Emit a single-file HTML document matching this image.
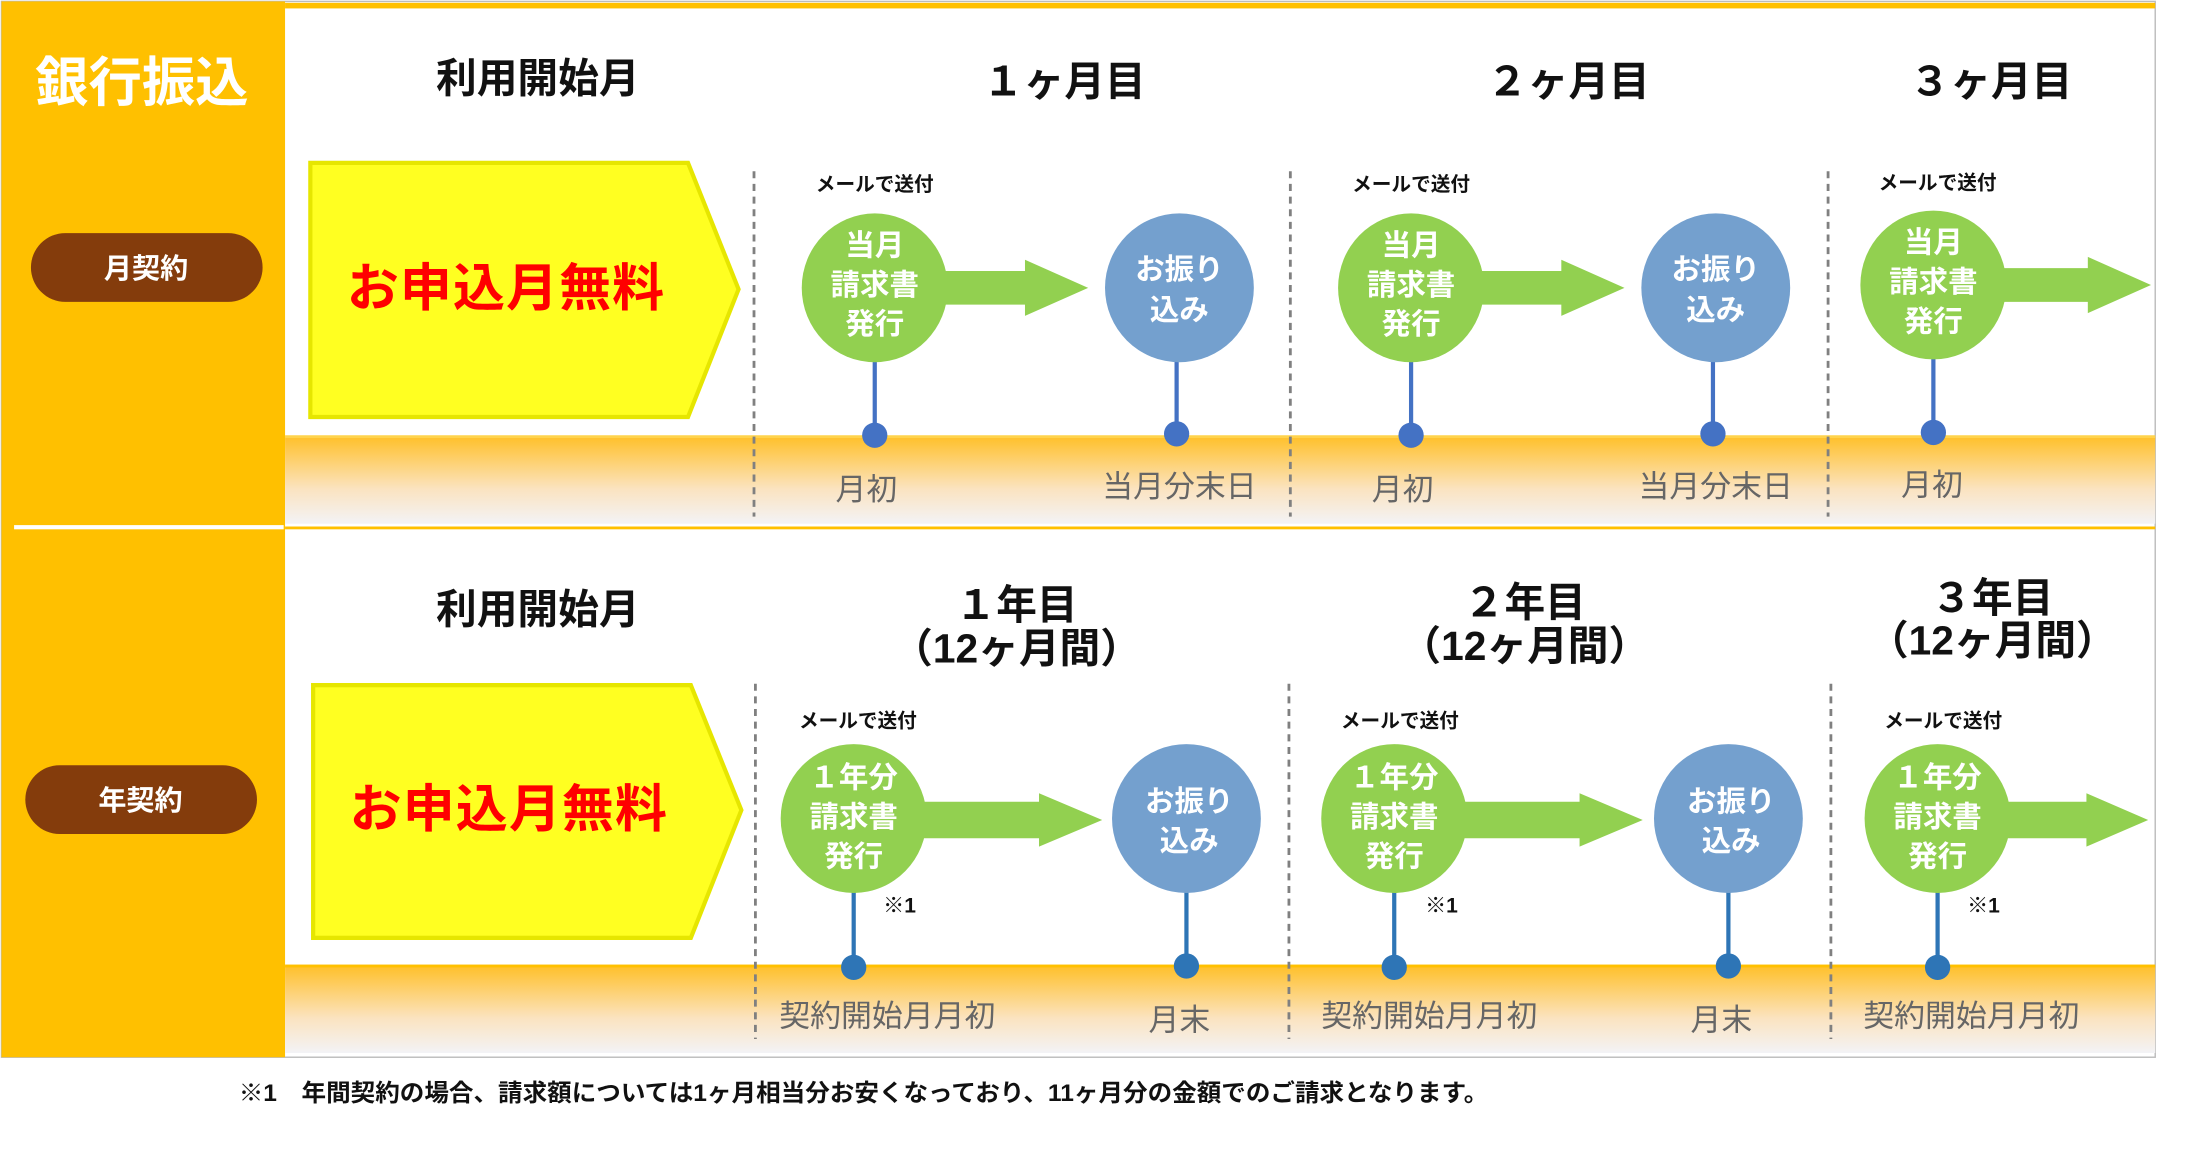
<!DOCTYPE html>
<html><head><meta charset="utf-8"><style>
html,body{margin:0;padding:0;background:#fff;}
svg{display:block;}
text{font-family:"Liberation Sans","Noto Sans CJK JP",sans-serif;}
.b{font-weight:bold;}
.w{fill:#fff;font-weight:bold;font-size:21px;text-anchor:middle;}
.h{font-weight:bold;font-size:29px;text-anchor:middle;fill:#111;}
.lab{font-size:22px;fill:#666;text-anchor:middle;}
.m{font-size:14px;font-weight:bold;text-anchor:middle;fill:#111;}
</style></head><body>
<svg width="2203" height="1152" viewBox="0 0 1569 820.5" xmlns="http://www.w3.org/2000/svg">
<defs>
<linearGradient id="g" x1="0" y1="0" x2="0" y2="1">
<stop offset="0" stop-color="#FFC02A"/><stop offset="0.6" stop-color="#FBE3C0"/><stop offset="1" stop-color="#F3F3F6"/>
</linearGradient>
</defs>
<rect x="1" y="1" width="1534" height="752" fill="#fff" stroke="#bbb" stroke-width="1"/>
<rect x="203" y="2" width="1332" height="4" fill="#FFC000"/>
<rect x="1" y="1" width="202" height="752" fill="#FFC000"/>
<rect x="10" y="374" width="192" height="3" fill="#fff"/>
<rect x="203" y="375" width="1332" height="2" fill="#FFC000"/>
<text x="101" y="72" class="b" font-size="38" fill="#fff" text-anchor="middle">銀行振込</text>
<rect x="22" y="166" width="165" height="49" rx="24.5" fill="#843C0C"/>
<text x="104" y="198" class="b" font-size="20" fill="#fff" text-anchor="middle">月契約</text>
<rect x="18" y="545" width="165" height="49" rx="24.5" fill="#843C0C"/>
<text x="100" y="577" class="b" font-size="20" fill="#fff" text-anchor="middle">年契約</text>

<rect x="203" y="311" width="1332" height="62" fill="url(#g)"/>
<rect x="203" y="310" width="1332" height="2" fill="#FFD34D"/>
<rect x="203" y="688" width="1332" height="62" fill="url(#g)"/>
<rect x="203" y="687" width="1332" height="2" fill="#FFC000"/>

<text x="383" y="66" class="h" font-size="28">利用開始月</text>
<text x="758" y="68" class="h" font-size="30">１ヶ月目</text>
<text x="1117" y="68" class="h" font-size="30">２ヶ月目</text>
<text x="1418" y="68" class="h" font-size="30">３ヶ月目</text>
<text x="383" y="444" class="h" font-size="28">利用開始月</text>
<text x="724" y="441" class="h" font-size="30">１年目</text>
<text x="724" y="472" class="h" font-size="20">（12ヶ月間）</text>
<text x="1086" y="439" class="h" font-size="30">２年目</text>
<text x="1086" y="470" class="h" font-size="20">（12ヶ月間）</text>
<text x="1419" y="436" class="h" font-size="30">３年目</text>
<text x="1419" y="466" class="h" font-size="20">（12ヶ月間）</text>

<polygon points="221,116 490,116 526,206 490,297 221,297" fill="#FFFF21" stroke="#E6E600" stroke-width="3"/>
<text x="360" y="218" class="b" font-size="37" fill="#FF0000" text-anchor="middle" textLength="226">お申込月無料</text>
<polygon points="223,488 492,488 528,577 492,668 223,668" fill="#FFFF21" stroke="#E6E600" stroke-width="3"/>
<text x="362" y="589" class="b" font-size="37" fill="#FF0000" text-anchor="middle" textLength="226">お申込月無料</text>

<g stroke="#808080" stroke-width="2" stroke-dasharray="5,4">
<line x1="537" y1="122" x2="537" y2="368"/><line x1="919" y1="122" x2="919" y2="368"/><line x1="1302" y1="122" x2="1302" y2="368"/>
<line x1="538" y1="487" x2="538" y2="740"/><line x1="918" y1="487" x2="918" y2="740"/><line x1="1304" y1="487" x2="1304" y2="740"/>
</g>

<g>
<text x="623" y="136" class="m">メールで送付</text>
<text x="1005" y="136" class="m">メールで送付</text>
<text x="1380" y="135" class="m">メールで送付</text>
<g stroke="#4472C4" stroke-width="3">
<line x1="623" y1="250" x2="623" y2="310"/><line x1="838" y1="250" x2="838" y2="310"/>
<line x1="1005" y1="250" x2="1005" y2="310"/><line x1="1220" y1="250" x2="1220" y2="310"/>
<line x1="1377" y1="250" x2="1377" y2="308"/>
</g>
<g fill="#4472C4"><circle cx="623" cy="310" r="9"/><circle cx="838" cy="309" r="9"/><circle cx="1005" cy="310" r="9"/><circle cx="1220" cy="309" r="9"/><circle cx="1377" cy="308" r="9"/></g>
<g fill="#92D050">
<polygon points="660,193 730,193 730,185 775,205 730,225 730,217 660,217"/>
<polygon points="1042,193 1112,193 1112,185 1157,205 1112,225 1112,217 1042,217"/>
<polygon points="1414,191 1487,191 1487,183 1532,203 1487,223 1487,215 1414,215"/>
<ellipse cx="623" cy="205" rx="52" ry="53"/><ellipse cx="1005" cy="205" rx="52" ry="53"/><ellipse cx="1377" cy="203" rx="52" ry="53"/>
</g>
<g fill="#74A0CE"><ellipse cx="840" cy="205" rx="53" ry="53"/><ellipse cx="1222" cy="205" rx="53" ry="53"/></g>
<text class="w" x="623" y="182">当月</text><text class="w" x="623" y="210">請求書</text><text class="w" x="623" y="238">発行</text>
<text class="w" x="1005" y="182">当月</text><text class="w" x="1005" y="210">請求書</text><text class="w" x="1005" y="238">発行</text>
<text class="w" x="1377" y="180">当月</text><text class="w" x="1377" y="208">請求書</text><text class="w" x="1377" y="236">発行</text>
<text class="w" x="840" y="199">お振り</text><text class="w" x="840" y="228">込み</text>
<text class="w" x="1222" y="199">お振り</text><text class="w" x="1222" y="228">込み</text>
<text class="lab" x="617" y="356">月初</text><text class="lab" x="840" y="354">当月分末日</text>
<text class="lab" x="999" y="356">月初</text><text class="lab" x="1222" y="354">当月分末日</text>
<text class="lab" x="1376" y="353">月初</text>
</g>

<g>
<text x="611" y="518" class="m">メールで送付</text>
<text x="997" y="518" class="m">メールで送付</text>
<text x="1384" y="518" class="m">メールで送付</text>
<g stroke="#2E75B6" stroke-width="3">
<line x1="608" y1="628" x2="608" y2="688"/><line x1="845" y1="628" x2="845" y2="688"/>
<line x1="993" y1="628" x2="993" y2="688"/><line x1="1231" y1="628" x2="1231" y2="688"/>
<line x1="1380" y1="628" x2="1380" y2="688"/>
</g>
<g fill="#2E75B6"><circle cx="608" cy="689" r="9"/><circle cx="845" cy="688" r="9"/><circle cx="993" cy="689" r="9"/><circle cx="1231" cy="688" r="9"/><circle cx="1380" cy="689" r="9"/></g>
<g fill="#92D050">
<polygon points="645,571 740,571 740,565 785,584 740,603 740,597 645,597"/>
<polygon points="1030,571 1125,571 1125,565 1170,584 1125,603 1125,597 1030,597"/>
<polygon points="1417,571 1486,571 1486,565 1530,584 1486,603 1486,597 1417,597"/>
<ellipse cx="608" cy="583" rx="52" ry="53"/><ellipse cx="993" cy="583" rx="52" ry="53"/><ellipse cx="1380" cy="583" rx="52" ry="53"/>
</g>
<g fill="#74A0CE"><ellipse cx="845" cy="583" rx="53" ry="53"/><ellipse cx="1231" cy="583" rx="53" ry="53"/></g>
<text class="w" x="608" y="561">１年分</text><text class="w" x="608" y="589">請求書</text><text class="w" x="608" y="617">発行</text>
<text class="w" x="993" y="561">１年分</text><text class="w" x="993" y="589">請求書</text><text class="w" x="993" y="617">発行</text>
<text class="w" x="1380" y="561">１年分</text><text class="w" x="1380" y="589">請求書</text><text class="w" x="1380" y="617">発行</text>
<text class="w" x="847" y="578">お振り</text><text class="w" x="847" y="606">込み</text>
<text class="w" x="1233" y="578">お振り</text><text class="w" x="1233" y="606">込み</text>
<g class="b" font-size="15" fill="#111"><text x="629" y="650">※1</text><text x="1015" y="650">※1</text><text x="1401" y="650">※1</text></g>
<text class="lab" x="632" y="731">契約開始月月初</text><text class="lab" x="840" y="734">月末</text>
<text class="lab" x="1018" y="731">契約開始月月初</text><text class="lab" x="1226" y="734">月末</text>
<text class="lab" x="1404" y="731">契約開始月月初</text>
</g>

<text x="170" y="784" class="b" font-size="17" fill="#111" textLength="890" lengthAdjust="spacingAndGlyphs">※1　年間契約の場合、請求額については1ヶ月相当分お安くなっており、11ヶ月分の金額でのご請求となります。</text>
</svg>
</body></html>
